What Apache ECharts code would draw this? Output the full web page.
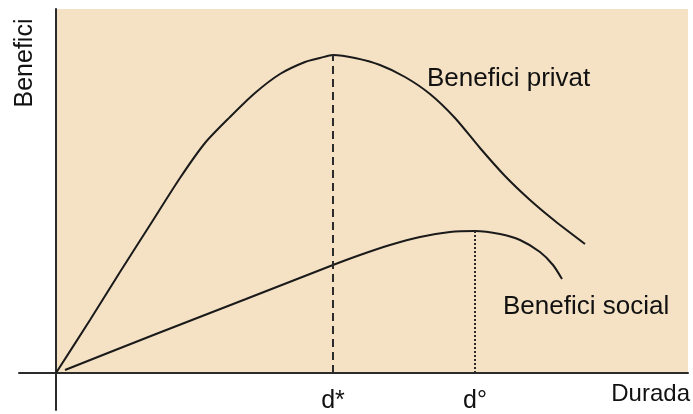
<!DOCTYPE html>
<html>
<head>
<meta charset="utf-8">
<script src="https://cdn.jsdelivr.net/npm/echarts@6/dist/echarts.min.js"></script>
<style>
html,body{margin:0;padding:0;background:#fff;}
#chart{width:693px;height:414px;}
</style>
</head>
<body>
<div id="chart"></div>
<script>
// Data (x = duration, y = benefit)
const privateBenefit = [
  [0,0],[34,53],[64,101],[94,148],[124,195],[149,230],[174,256],[199,280],
  [224,299],[249,311],[264,315],[277,318],[299,315],[324,308],[349,296],
  [374,279],[399,255],[424,225],[449,197],[474,173],[499,152],[529,129]
];
const socialBenefit = [
  [9,3],[100,39],[190,74],[277,108],[304,118],[334,128],[364,136],
  [394,141],[419,142],[444,139],[464,133],[484,121],[497,108],[506,94]
];
const tickValues = [277, 419];
const tickLabels = ['d*', 'd°'];
const peakPrivate = [277, 318];
const peakSocial = [419, 142];
const plotExtent = [[1, 1], [637, 364]];

const FONT = 'Liberation Sans, Arial, sans-serif';
const chart = echarts.init(document.getElementById('chart'), null, {renderer: 'canvas'});

const option = {
  animation: false,
  backgroundColor: '#ffffff',
  grid: {left: 19, right: 5, top: 9, bottom: 4, containLabel: false, outerBoundsMode: 'none'},
  xAxis: {
    type: 'value', min: -37, max: 632,
    axisLine: {show: true, onZero: true, lineStyle: {color: '#2b2b2b', width: 2}},
    axisTick: {show: false},
    splitLine: {show: false},
    axisLabel: {show: false}
  },
  yAxis: {
    type: 'value', min: -37, max: 364,
    axisLine: {show: true, onZero: true, lineStyle: {color: '#2b2b2b', width: 2}},
    axisTick: {show: false},
    splitLine: {show: false},
    axisLabel: {show: false}
  },
  series: [
    {
      name: 'Benefici privat', type: 'line', data: privateBenefit,
      smooth: 0.25, symbol: 'none', clip: false, z: 3,
      lineStyle: {color: '#1a1a1a', width: 2},
      markArea: {
        silent: true,
        itemStyle: {color: '#F5E2C5'},
        data: [[{coord: plotExtent[0]}, {coord: plotExtent[1]}]]
      },
      markLine: {
        silent: true, symbol: 'none',
        lineStyle: {color: '#2b2b2b', width: 2, type: [8, 5]},
        label: {
          show: true, position: 'start', distance: 16,
          formatter: tickLabels[0],
          fontFamily: FONT, fontSize: 25, color: '#111'
        },
        data: [[{coord: [tickValues[0], 0]}, {coord: peakPrivate}]]
      }
    },
    {
      name: 'Benefici social', type: 'line', data: socialBenefit,
      smooth: 0.25, symbol: 'none', clip: false, z: 3,
      lineStyle: {color: '#1a1a1a', width: 2},
      markLine: {
        silent: true, symbol: 'none',
        lineStyle: {color: '#2b2b2b', width: 2, type: [2, 2]},
        label: {
          show: true, position: 'start', distance: 16,
          formatter: tickLabels[1],
          fontFamily: FONT, fontSize: 25, color: '#111'
        },
        data: [[{coord: [tickValues[1], 0]}, {coord: peakSocial}]]
      }
    }
  ],
  graphic: {
    elements: [
      {type: 'text', z: 100, x: 427, y: 79, style: {text: 'Benefici privat', font: '26px ' + FONT, fill: '#111', align: 'left', verticalAlign: 'middle'}},
      {type: 'text', z: 100, x: 503, y: 307, style: {text: 'Benefici social', font: '26px ' + FONT, fill: '#111', align: 'left', verticalAlign: 'middle'}},
      {type: 'text', z: 100, x: 690, y: 394, style: {text: 'Durada', font: '24px ' + FONT, fill: '#111', align: 'right', verticalAlign: 'middle'}},
      {type: 'text', z: 100, x: 25, y: 63, rotation: Math.PI / 2, style: {text: 'Benefici', font: '25px ' + FONT, fill: '#111', align: 'center', verticalAlign: 'middle'}}
    ]
  }
};
chart.setOption(option);
</script>
</body>
</html>
